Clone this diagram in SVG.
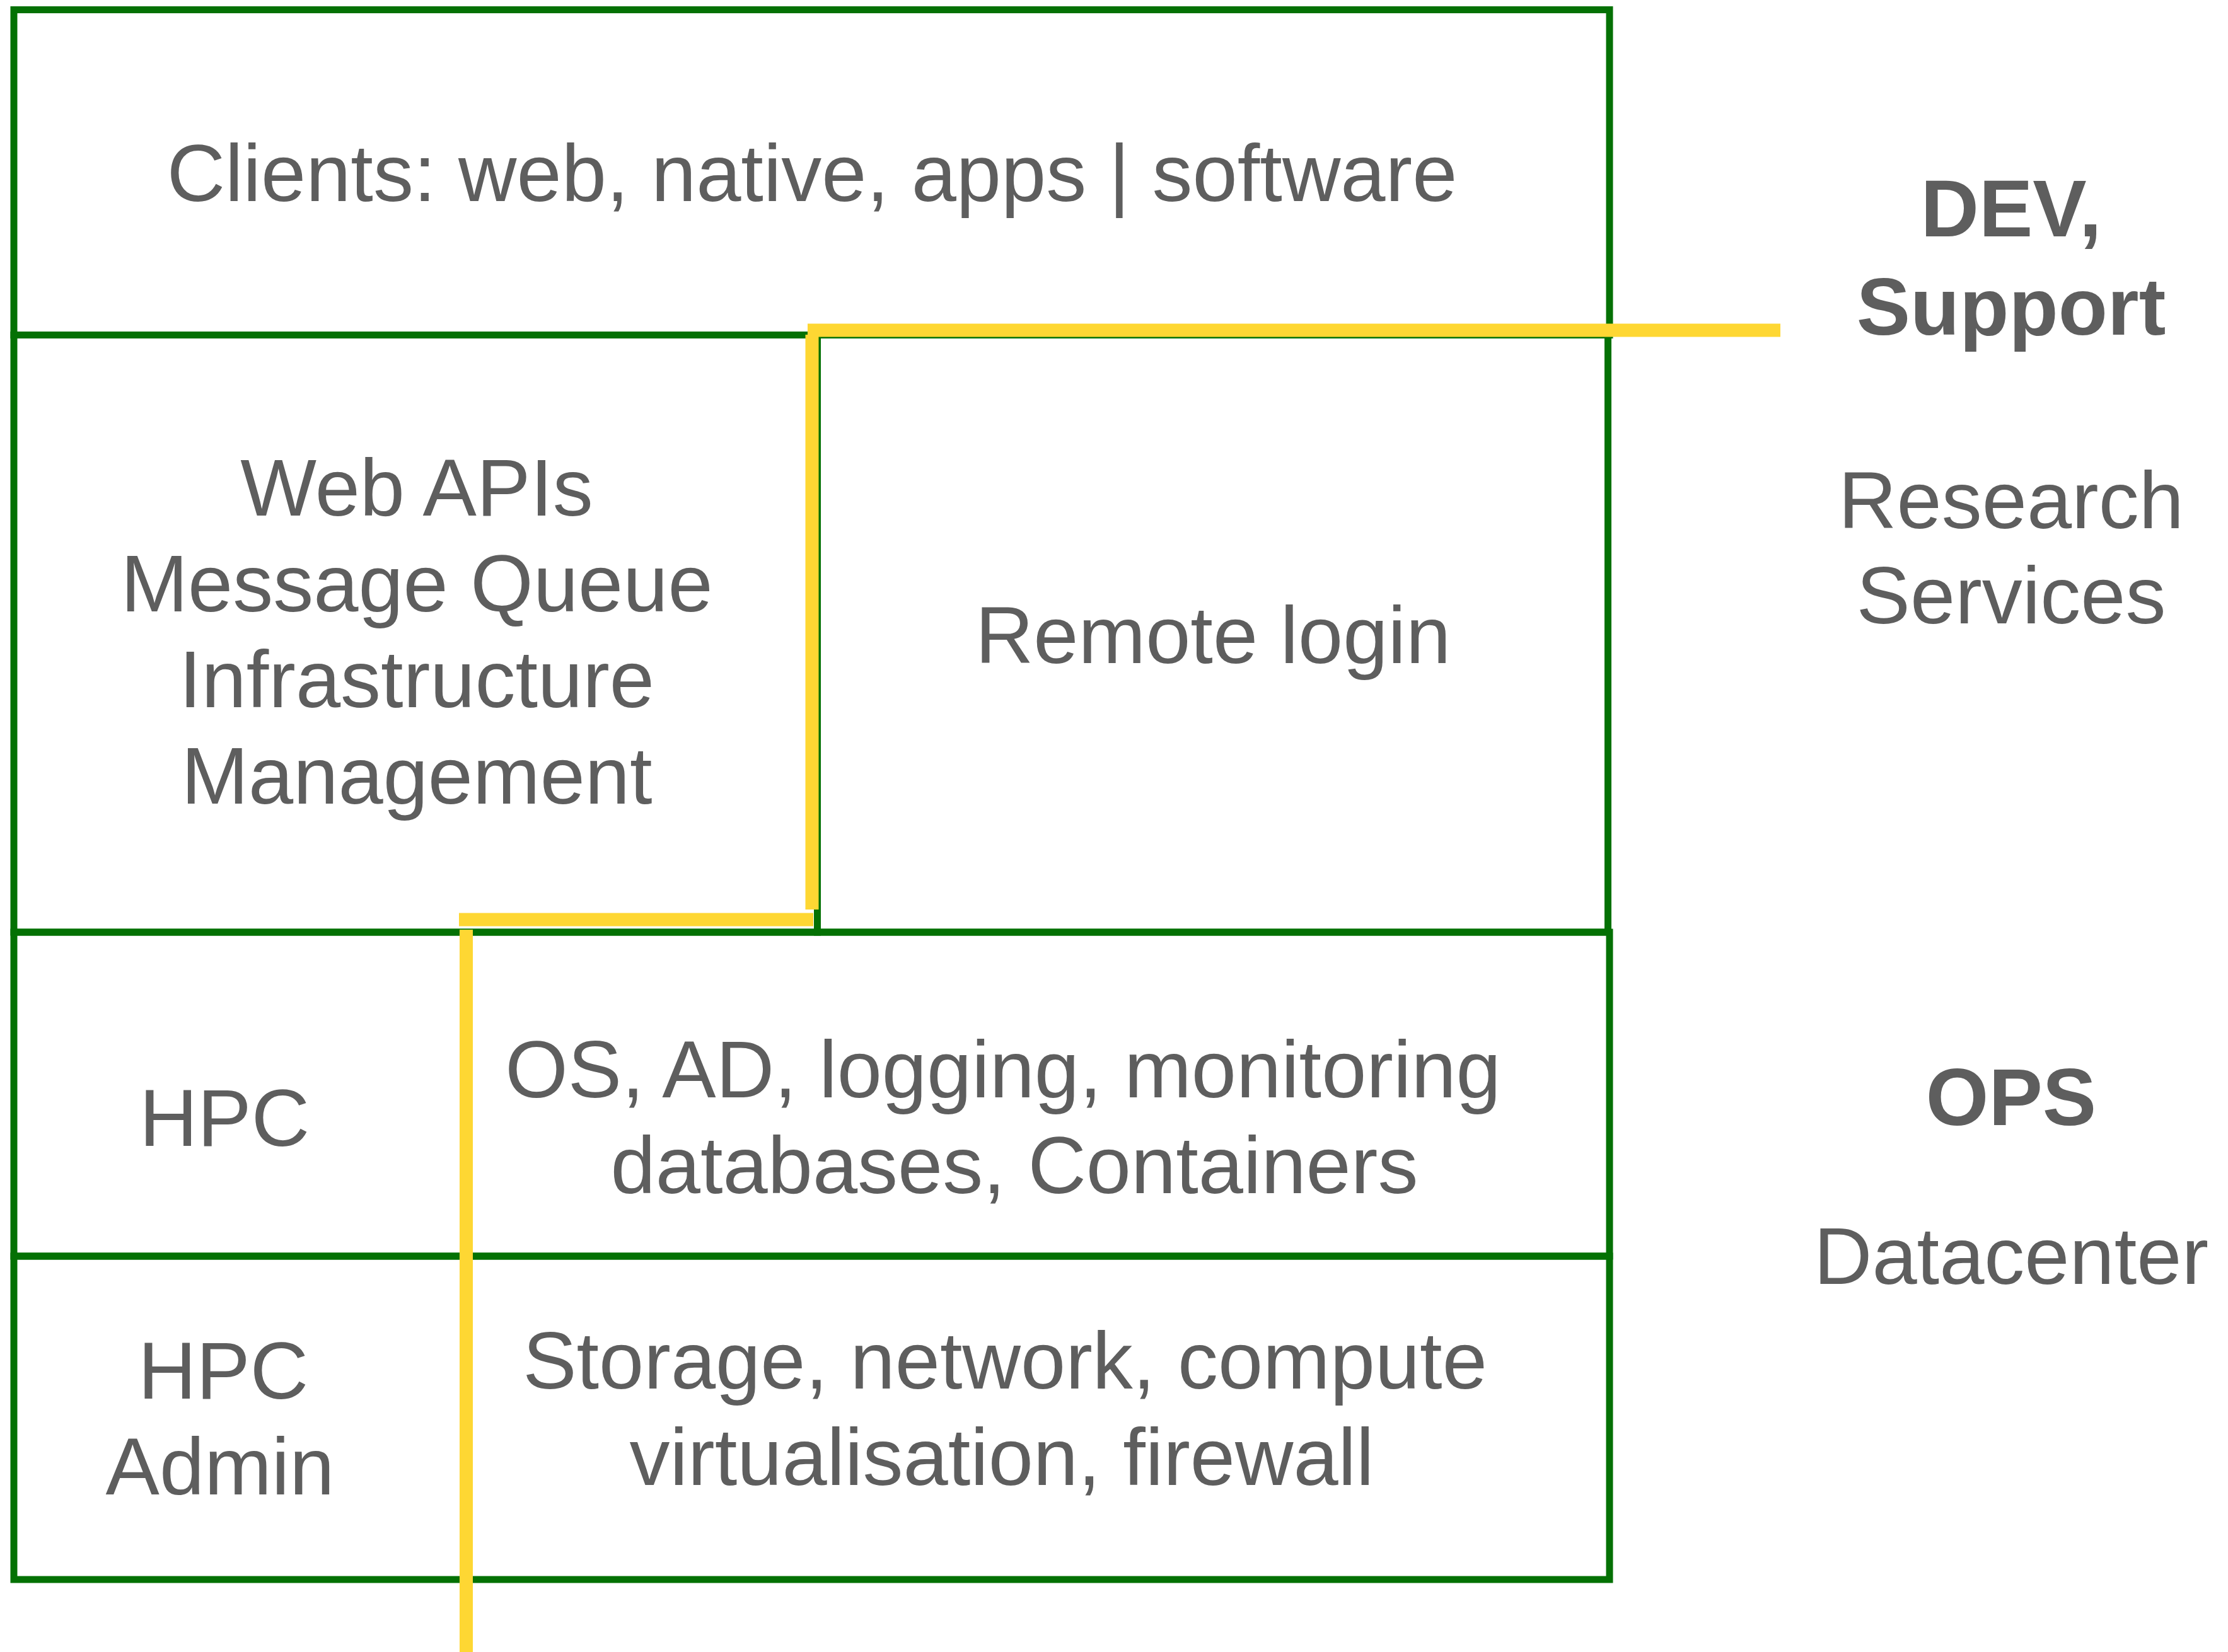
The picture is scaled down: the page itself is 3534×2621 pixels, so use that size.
<svg xmlns="http://www.w3.org/2000/svg" width="3534" height="2621" viewBox="0 0 3534 2621">
  <style>
    .box { fill: none; stroke: #047104; stroke-width: 11; }
    .t { font-family: "Liberation Sans", Arial, Helvetica, sans-serif; font-size: 128px; fill: #5e5e5e; text-anchor: middle; }
    .b { font-weight: bold; }
    .y { stroke: #fed733; stroke-width: 21; fill: none; stroke-linecap: butt; }
  </style>
  <rect x="0" y="0" width="3534" height="2621" fill="#ffffff"/>

  <g id="clients">
    <rect class="box" x="22" y="15.5" width="2531" height="516"/>
    <text class="t" x="1288" y="319">Clients: web, native, apps | software</text>
  </g>

  <g id="web-apis">
    <rect class="box" x="22" y="531.5" width="1274.5" height="947.5"/>
    <text class="t" x="661" y="818">Web APIs</text>
    <text class="t" x="661" y="970">Message Queue</text>
    <text class="t" x="661" y="1122">Infrastructure</text>
    <text class="t" x="661" y="1275">Management</text>
  </g>

  <g id="remote-login">
    <rect class="box" x="1296.5" y="531.5" width="1254" height="947.5"/>
    <text class="t" x="1924" y="1052">Remote login</text>
  </g>

  <g id="os-row">
    <rect class="box" x="22" y="1479" width="2531" height="514"/>
  </g>

  <g id="hpc">
    <text class="t" x="356" y="1818">HPC</text>
  </g>

  <g id="os-services">
    <text class="t" x="1591" y="1741">OS, AD, logging, monitoring</text>
    <text class="t" x="1609" y="1893">databases, Containers</text>
  </g>

  <g id="infra-row">
    <rect class="box" x="22" y="1993" width="2531" height="513"/>
  </g>

  <g id="hpc-admin">
    <text class="t" x="354" y="2219">HPC</text>
    <text class="t" x="349" y="2371">Admin</text>
  </g>

  <g id="infra-services">
    <text class="t" x="1594" y="2203">Storage, network, compute</text>
    <text class="t" x="1589" y="2356">virtualisation, firewall</text>
  </g>

  <g id="dev-support">
    <text class="t b" x="3190" y="375">DEV,</text>
    <text class="t b" x="3190" y="531">Support</text>
    <text class="t" x="3190" y="838">Research</text>
    <text class="t" x="3190" y="989">Services</text>
  </g>

  <g id="ops">
    <text class="t b" x="3190" y="1785">OPS</text>
    <text class="t" x="3190" y="2037">Datacenter</text>
  </g>

  <g id="connectors">
    <line class="y" x1="1281" y1="524" x2="2824" y2="524"/>
    <line class="y" x1="1288" y1="531" x2="1288" y2="1443"/>
    <line class="y" x1="728" y1="1459" x2="1290" y2="1459"/>
    <line class="y" x1="739.5" y1="1475" x2="739.5" y2="2621"/>
  </g>
</svg>
